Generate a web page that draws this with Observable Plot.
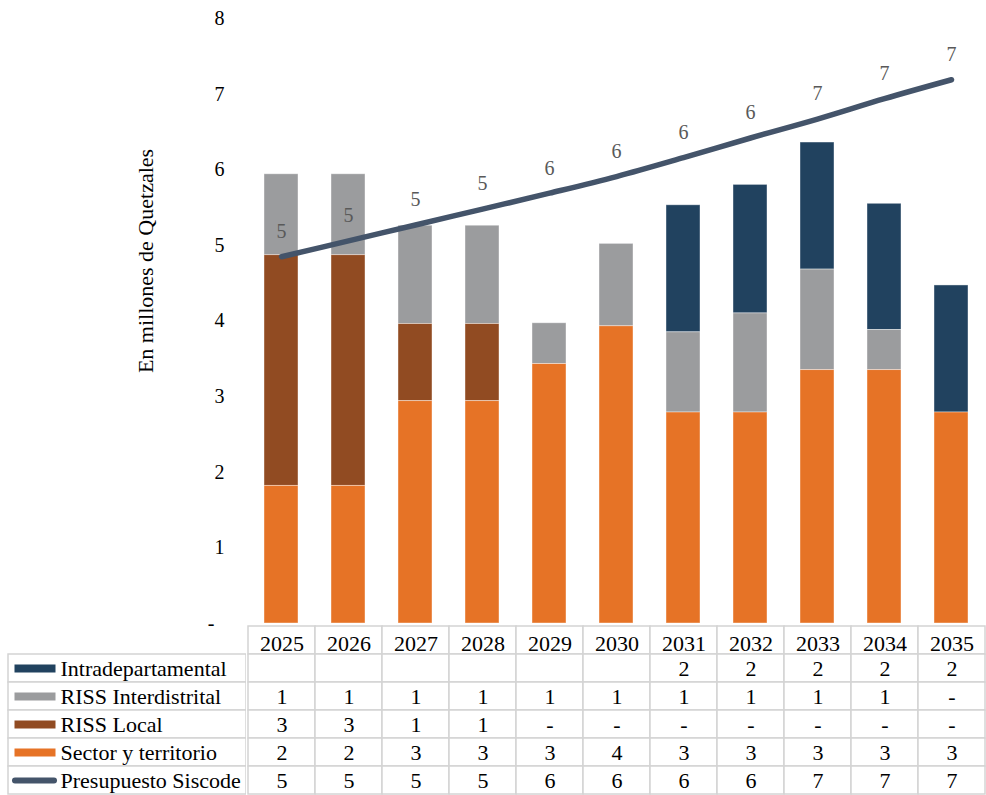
<!DOCTYPE html>
<html>
<head>
<meta charset="utf-8">
<script src="https://cdn.jsdelivr.net/npm/d3@7"></script>
<script src="https://cdn.jsdelivr.net/npm/@observablehq/plot@0.6"></script>
<style>
  html, body { margin: 0; padding: 0; background: #fff; overflow: hidden; }
  #chart { width: 986px; position: relative; z-index: 1; }
  #table { display: flex; flex-direction: row; width: 986px; position: relative; }
  svg { display: block; }
</style>
</head>
<body>
<div id="chart"></div>
<div id="table"></div>
<script>
// ---- Data (millions of Quetzales) ----
const years = ["2025","2026","2027","2028","2029","2030","2031","2032","2033","2034","2035"];
const sectorTerritorio = [1.82, 1.82, 2.94, 2.94, 3.43, 3.93, 2.79, 2.79, 3.35, 3.35, 2.79];
const rissLocal        = [3.05, 3.05, 1.02, 1.02, 0, 0, 0, 0, 0, 0, 0];
const rissInter        = [1.07, 1.07, 1.30, 1.30, 0.54, 1.09, 1.06, 1.31, 1.33, 0.53, 0];
const intradep         = [null, null, null, null, null, null, 1.68, 1.70, 1.68, 1.67, 1.68];
const presupuesto      = [4.85, 5.06, 5.27, 5.48, 5.69, 5.91, 6.16, 6.42, 6.67, 6.94, 7.19];

const barSeriesNames = ["Intradepartamental", "RISS Interdistrital", "RISS Local", "Sector y territorio"];
const barSeriesValues = [intradep, rissInter, rissLocal, sectorTerritorio];
const barColors = ["#21425f", "#9b9c9e", "#914b22", "#e67326"];
const lineName = "Presupuesto Siscode";
const lineColor = "#44546a";
const stackOrder = ["Sector y territorio", "RISS Local", "RISS Interdistrital", "Intradepartamental"];
const yTicks = [0, 1, 2, 3, 4, 5, 6, 7, 8];
const yLabel = "En millones de Quetzales";

// ---- Derived tables ----
const barData = [];
barSeriesNames.forEach((name, i) => {
  years.forEach((yr, j) => {
    const v = barSeriesValues[i][j];
    if (v != null && v > 0) barData.push({year: yr, series: name, value: v});
  });
});
const lineData = years.map((yr, j) => ({year: yr, value: presupuesto[j]}));
const fmt = v => v == null ? "" : (v === 0 ? "-" : d3.format(".0f")(v));

const fontFamily = "'Liberation Serif', 'Times New Roman', serif";

// ---- Chart ----
const chart = Plot.plot({
  width: 986,
  height: 624,
  marginLeft: 246,
  marginRight: 0,
  marginTop: 18,
  marginBottom: 1,
  style: {fontFamily, fontSize: "20px", color: "#000", background: "transparent", overflow: "visible"},
  x: {domain: years, paddingInner: 0.5, paddingOuter: 0.25, axis: null},
  y: {domain: [0, 8]},
  color: {domain: barSeriesNames, range: barColors},
  marks: [
    Plot.axisY({ticks: yTicks, tickSize: 0, tickPadding: 22, label: null, fontSize: 20,
      tickFormat: d => d === 0 ? "-\u2002" : String(d)}),
    Plot.barY(barData, {x: "year", y: "value", fill: "series", order: stackOrder,
      stroke: "#ffffff", strokeOpacity: 0.5, strokeWidth: 0.8}),
    Plot.line(lineData, {x: "year", y: "value", stroke: lineColor, strokeWidth: 5.5,
      strokeLinecap: "round", curve: "catmull-rom"}),
    Plot.text(lineData, {x: "year", y: "value", text: d => fmt(d.value), dy: -25,
      fill: "#595959", fontSize: 20}),
    Plot.text([yLabel], {frameAnchor: "left", text: d => d, rotate: -90, textAnchor: "middle",
      dx: -101, dy: -60, fontSize: 22, fill: "#000"})
  ]
});
document.getElementById("chart").appendChild(chart);

// ---- Data table ----
const tableRows = [...barSeriesNames, lineName];
const tableValues = [...barSeriesValues, presupuesto];
const rowColors = [...barColors, lineColor];
const rowDomain = ["header", ...tableRows];
const tableHeight = 172;
const gridColor = "#d4d4d4";

// left label column
const labelRows = tableRows.map((name, i) => ({name, color: rowColors[i], isLine: name === lineName}));
const rectSwatch = {draw(ctx) { ctx.rect(-20.5, -4, 41, 8); }};
const lineSwatch = {draw(ctx) { ctx.moveTo(-19.5, 0); ctx.lineTo(19.5, 0); }};
const labelPlot = Plot.plot({
  width: 246,
  height: tableHeight,
  marginLeft: 8, marginRight: 0, marginTop: 0, marginBottom: 0,
  style: {fontFamily, fontSize: "22px", color: "#000", background: "transparent"},
  x: {domain: ["label"], padding: 0, axis: null},
  y: {domain: rowDomain, padding: 0, axis: null},
  marks: [
    Plot.cell(labelRows, {x: () => "label", y: "name", fill: "#fff", stroke: gridColor, strokeWidth: 1.5}),
    Plot.dot(labelRows.filter(d => !d.isLine), {x: () => "label", y: "name", symbol: rectSwatch,
      fill: d => d.color, stroke: "none", dx: -92.5}),
    Plot.dot(labelRows.filter(d => d.isLine), {x: () => "label", y: "name", symbol: lineSwatch,
      fill: "none", stroke: d => d.color, strokeWidth: 6, strokeLinecap: "round", dx: -93}),
    Plot.text(labelRows, {x: () => "label", y: "name", text: "name", textAnchor: "start",
      dx: -67, fontSize: 22, fill: "#000"})
  ]
});

// value columns
const headerCells = years.map(yr => ({year: yr, row: "header", text: yr}));
const valueCells = [];
tableRows.forEach((name, i) => {
  years.forEach((yr, j) => valueCells.push({year: yr, row: name, text: fmt(tableValues[i][j])}));
});
const valuePlot = Plot.plot({
  width: 740,
  height: tableHeight,
  marginLeft: 0, marginRight: 0, marginTop: 0, marginBottom: 0,
  style: {fontFamily, fontSize: "22px", color: "#000", background: "#fff"},
  x: {domain: years, padding: 0, axis: null},
  y: {domain: rowDomain, padding: 0, axis: null},
  marks: [
    Plot.cell([...headerCells, ...valueCells], {x: "year", y: "row", fill: "#fff", stroke: gridColor, strokeWidth: 1.5}),
    Plot.text(headerCells, {x: "year", y: "row", text: "text", dy: 3, fontSize: 22, fill: "#000"}),
    Plot.text(valueCells, {x: "year", y: "row", text: "text", fontSize: 22, fill: "#000"})
  ]
});
const tableDiv = document.getElementById("table");
tableDiv.appendChild(labelPlot);
tableDiv.appendChild(valuePlot);
</script>
</body>
</html>
